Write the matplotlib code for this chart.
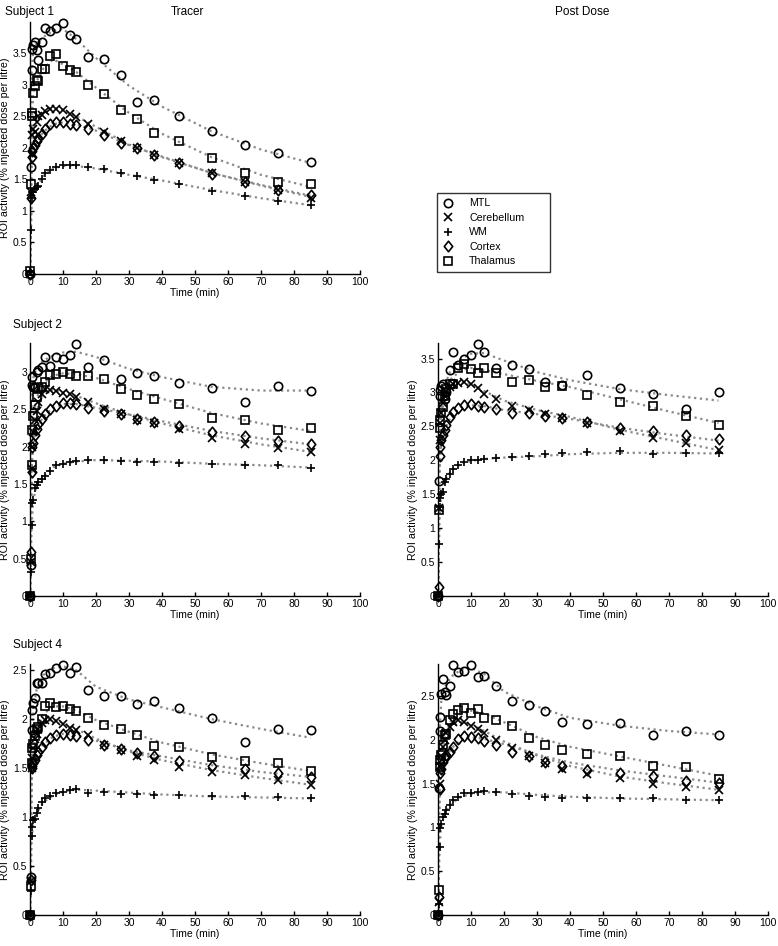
"""
ROI time-activity curves, tracer vs post dose, three subjects
"""

import matplotlib
matplotlib.use('Agg')
import matplotlib.pyplot as plt
from matplotlib.lines import Line2D
from matplotlib.path import Path

plt.rcParams['font.family'] = ['Liberation Sans', 'DejaVu Sans']
plt.rcParams['font.size'] = 7.5

# sample times (min)
times = [0, 0.25, 0.5, 0.75, 1, 1.5, 2, 2.5, 3.5, 4.5, 6, 8, 10, 12, 14,
         17.5, 22.5, 27.5, 32.5, 37.5, 45, 55, 65, 75, 85]
# times of the model fit curves (min)
fit_times = [0, 0.5, 1, 2, 4, 7, 10, 14, 20, 30, 40, 55, 70, 85]

regions = ['MTL', 'Cerebellum', 'WM', 'Cortex', 'Thalamus']

# MATLAB-like diamond: a bit taller than wide
diamond = Path([(0, 1), (0.8, 0), (0, -1), (-0.8, 0), (0, 1)],
               [Path.MOVETO, Path.LINETO, Path.LINETO, Path.LINETO, Path.CLOSEPOLY])
markers = ['o', 'x', '+', diamond, 's']

# Subject 1, tracer
s1_tracer_mtl = [0, 1.7, 3.23, 3.57, 3.62, 3.67, 3.55, 3.39, 3.68, 3.9, 3.85, 3.9, 3.97, 3.79, 3.72,
                 3.44, 3.4, 3.15, 2.72, 2.75, 2.5, 2.26, 2.04, 1.92, 1.77]
s1_tracer_cer = [0, 1.3, 1.9, 2.2, 2.3, 2.25, 2.4, 2.5, 2.52, 2.58, 2.62, 2.62, 2.6, 2.53, 2.48,
                 2.38, 2.25, 2.1, 1.99, 1.88, 1.75, 1.6, 1.45, 1.33, 1.2]
s1_tracer_wm = [0.05, 0.7, 1.2, 1.3, 1.3, 1.35, 1.38, 1.4, 1.5, 1.6, 1.65, 1.7, 1.72, 1.72, 1.72,
                1.69, 1.66, 1.6, 1.55, 1.49, 1.43, 1.32, 1.23, 1.16, 1.09]
s1_tracer_ctx = [0, 1.2, 1.85, 1.95, 2.0, 2.05, 2.1, 2.15, 2.22, 2.3, 2.38, 2.4, 2.4, 2.38, 2.36,
                 2.3, 2.2, 2.08, 1.99, 1.88, 1.75, 1.59, 1.46, 1.33, 1.25]
s1_tracer_thal = [0.05, 1.43, 2.5, 2.55, 2.87, 2.98, 3.07, 3.05, 3.25, 3.25, 3.45, 3.48, 3.3, 3.23, 3.2,
                  3.0, 2.85, 2.6, 2.46, 2.23, 2.11, 1.84, 1.6, 1.45, 1.43]
s1_tracer_fit_mtl = [0, 3.2, 3.55, 3.65, 3.75, 3.85, 3.88, 3.72, 3.42, 2.98, 2.65, 2.26, 1.97, 1.76]
s1_tracer_fit_cer = [0, 1.9, 2.2, 2.4, 2.55, 2.62, 2.6, 2.5, 2.33, 2.05, 1.85, 1.6, 1.4, 1.22]
s1_tracer_fit_wm = [0, 1.1, 1.28, 1.38, 1.55, 1.67, 1.71, 1.71, 1.67, 1.57, 1.48, 1.33, 1.2, 1.09]
s1_tracer_fit_ctx = [0, 1.8, 1.95, 2.08, 2.25, 2.37, 2.4, 2.37, 2.27, 2.04, 1.86, 1.6, 1.41, 1.24]
s1_tracer_fit_thal = [0, 2.4, 2.85, 3.05, 3.25, 3.4, 3.32, 3.2, 2.95, 2.55, 2.22, 1.85, 1.57, 1.38]

# Subject 2, tracer
s2_tracer_mtl = [0, 0.41, 2.93, 2.82, 2.8, 2.8, 3.0, 3.02, 3.06, 3.2, 3.08, 3.2, 3.17, 3.22, 3.37,
                 3.07, 3.16, 2.91, 2.99, 2.95, 2.85, 2.78, 2.6, 2.81, 2.75]
s2_tracer_cer = [0, 0.45, 1.7, 2.0, 2.2, 2.35, 2.48, 2.6, 2.7, 2.77, 2.76, 2.74, 2.72, 2.7, 2.67,
                 2.6, 2.5, 2.43, 2.36, 2.31, 2.23, 2.12, 2.04, 1.98, 1.93]
s2_tracer_wm = [0, 0.32, 0.95, 1.24, 1.29, 1.44, 1.48, 1.52, 1.57, 1.61, 1.67, 1.75, 1.77, 1.79, 1.81,
                1.82, 1.82, 1.81, 1.8, 1.79, 1.78, 1.77, 1.76, 1.75, 1.72]
s2_tracer_ctx = [0, 0.59, 1.66, 2.0, 2.05, 2.15, 2.24, 2.3, 2.37, 2.44, 2.5, 2.55, 2.58, 2.58, 2.57,
                 2.52, 2.48, 2.43, 2.37, 2.33, 2.28, 2.2, 2.14, 2.07, 2.04]
s2_tracer_thal = [0, 0.5, 1.76, 2.22, 2.41, 2.56, 2.66, 2.78, 2.8, 2.87, 2.96, 2.97, 3.0, 2.97, 2.95,
                  2.95, 2.9, 2.77, 2.69, 2.64, 2.57, 2.38, 2.36, 2.22, 2.25]
s2_tracer_fit_mtl = [0, 2.7, 2.92, 3.05, 3.15, 3.22, 3.26, 3.27, 3.2, 3.04, 2.93, 2.8, 2.75, 2.75]
s2_tracer_fit_cer = [0, 1.75, 2.2, 2.48, 2.7, 2.76, 2.73, 2.68, 2.58, 2.43, 2.31, 2.15, 2.03, 1.93]
s2_tracer_fit_wm = [0, 0.95, 1.28, 1.48, 1.6, 1.72, 1.77, 1.8, 1.82, 1.81, 1.8, 1.77, 1.75, 1.72]
s2_tracer_fit_ctx = [0, 1.7, 2.05, 2.24, 2.4, 2.52, 2.57, 2.57, 2.52, 2.43, 2.34, 2.21, 2.11, 2.03]
s2_tracer_fit_thal = [0, 1.8, 2.4, 2.65, 2.85, 2.95, 2.98, 2.97, 2.92, 2.77, 2.64, 2.45, 2.31, 2.21]

# Subject 2, post dose
s2_post_mtl = [0, 1.7, 3.03, 2.95, 3.1, 3.12, 2.91, 3.0, 3.33, 3.6, 3.4, 3.5, 3.55, 3.71, 3.6,
               3.36, 3.4, 3.35, 3.15, 3.11, 3.25, 3.06, 2.97, 2.76, 3.0]
s2_post_cer = [0, 1.3, 2.3, 2.55, 2.7, 2.85, 2.95, 3.0, 3.08, 3.13, 3.14, 3.15, 3.13, 3.06, 2.97,
               2.9, 2.8, 2.74, 2.68, 2.63, 2.55, 2.43, 2.33, 2.25, 2.15]
s2_post_wm = [0, 0.77, 1.31, 1.45, 1.51, 1.53, 1.68, 1.72, 1.8, 1.87, 1.93, 1.98, 2.0, 2.01, 2.02,
              2.04, 2.05, 2.06, 2.1, 2.11, 2.12, 2.14, 2.1, 2.11, 2.11]
s2_post_ctx = [0, 0.13, 2.07, 2.2, 2.3, 2.37, 2.45, 2.52, 2.64, 2.71, 2.77, 2.81, 2.83, 2.8, 2.79,
               2.75, 2.7, 2.69, 2.65, 2.63, 2.57, 2.48, 2.43, 2.37, 2.32]
s2_post_thal = [0, 1.27, 2.47, 2.6, 2.7, 2.78, 2.95, 3.05, 3.13, 3.13, 3.36, 3.42, 3.35, 3.28, 3.36,
                3.28, 3.15, 3.18, 3.08, 3.1, 2.96, 2.86, 2.8, 2.66, 2.52]
s2_post_fit_mtl = [0, 2.5, 2.9, 3.1, 3.35, 3.5, 3.57, 3.58, 3.47, 3.3, 3.18, 3.05, 2.96, 2.88]
s2_post_fit_cer = [0, 2.2, 2.7, 2.95, 3.1, 3.15, 3.12, 3.02, 2.88, 2.74, 2.64, 2.45, 2.3, 2.15]
s2_post_fit_wm = [0, 1.2, 1.5, 1.68, 1.85, 1.95, 1.99, 2.02, 2.04, 2.06, 2.09, 2.11, 2.11, 2.1]
s2_post_fit_ctx = [0, 1.9, 2.25, 2.45, 2.65, 2.78, 2.81, 2.8, 2.74, 2.68, 2.61, 2.48, 2.38, 2.29]
s2_post_fit_thal = [0, 2.3, 2.7, 2.95, 3.2, 3.33, 3.36, 3.33, 3.27, 3.17, 3.08, 2.9, 2.72, 2.55]

# Subject 4, tracer
s4_tracer_mtl = [0, 0.39, 1.89, 2.09, 2.16, 2.22, 2.37, 2.37, 2.37, 2.46, 2.47, 2.52, 2.55, 2.47, 2.53,
                 2.3, 2.24, 2.24, 2.15, 2.19, 2.11, 2.01, 1.77, 1.9, 1.89]
s4_tracer_cer = [0, 0.35, 1.5, 1.6, 1.7, 1.8, 1.85, 1.9, 1.96, 1.99, 2.0, 1.98, 1.95, 1.91, 1.89,
                 1.84, 1.74, 1.68, 1.62, 1.58, 1.51, 1.46, 1.43, 1.38, 1.33]
s4_tracer_wm = [0, 0.24, 0.81, 0.9, 0.97, 0.98, 1.04, 1.09, 1.15, 1.19, 1.22, 1.25, 1.26, 1.28, 1.29,
                1.25, 1.26, 1.24, 1.24, 1.23, 1.23, 1.21, 1.21, 1.2, 1.19]
s4_tracer_ctx = [0, 0.36, 1.5, 1.52, 1.55, 1.58, 1.63, 1.66, 1.72, 1.77, 1.81, 1.84, 1.85, 1.84, 1.83,
                 1.79, 1.74, 1.69, 1.65, 1.62, 1.57, 1.52, 1.49, 1.45, 1.41]
s4_tracer_thal = [0, 0.3, 1.55, 1.7, 1.75, 1.83, 1.9, 1.92, 2.0, 2.13, 2.16, 2.12, 2.13, 2.1, 2.08,
                  2.01, 1.94, 1.9, 1.84, 1.73, 1.72, 1.61, 1.57, 1.55, 1.47]
s4_tracer_fit_mtl = [0, 1.8, 2.1, 2.3, 2.45, 2.52, 2.54, 2.5, 2.33, 2.2, 2.12, 2.0, 1.9, 1.81]
s4_tracer_fit_cer = [0, 1.4, 1.65, 1.85, 1.96, 2.0, 1.96, 1.9, 1.8, 1.67, 1.58, 1.48, 1.4, 1.33]
s4_tracer_fit_wm = [0, 0.75, 0.95, 1.04, 1.15, 1.22, 1.26, 1.28, 1.27, 1.25, 1.23, 1.21, 1.2, 1.19]
s4_tracer_fit_ctx = [0, 1.4, 1.52, 1.62, 1.74, 1.82, 1.85, 1.84, 1.78, 1.68, 1.62, 1.53, 1.46, 1.41]
s4_tracer_fit_thal = [0, 1.45, 1.72, 1.88, 2.05, 2.13, 2.13, 2.09, 1.99, 1.87, 1.76, 1.64, 1.55, 1.47]

# Subject 4, post dose
s4_post_mtl = [0, 1.45, 2.1, 2.26, 2.52, 2.69, 2.55, 2.51, 2.61, 2.85, 2.77, 2.78, 2.85, 2.72, 2.73,
               2.61, 2.44, 2.4, 2.33, 2.2, 2.18, 2.19, 2.05, 2.1, 2.05]
s4_post_cer = [0, 0.15, 1.5, 1.7, 1.82, 1.92, 2.0, 2.08, 2.15, 2.2, 2.22, 2.2, 2.16, 2.12, 2.08,
               2.0, 1.91, 1.81, 1.74, 1.67, 1.61, 1.56, 1.5, 1.46, 1.43]
s4_post_wm = [0, 0.12, 0.78, 0.99, 1.04, 1.12, 1.15, 1.2, 1.26, 1.31, 1.35, 1.39, 1.39, 1.4, 1.41,
              1.4, 1.38, 1.36, 1.35, 1.34, 1.33, 1.33, 1.33, 1.31, 1.31]
s4_post_ctx = [0, 0.2, 1.44, 1.62, 1.67, 1.75, 1.79, 1.83, 1.86, 1.92, 2.01, 2.04, 2.03, 2.02, 1.99,
               1.94, 1.86, 1.81, 1.75, 1.7, 1.66, 1.62, 1.59, 1.53, 1.51]
s4_post_thal = [0, 0.29, 1.69, 1.77, 1.83, 1.94, 2.05, 2.06, 2.22, 2.29, 2.34, 2.36, 2.3, 2.35, 2.25,
                2.23, 2.16, 2.02, 1.94, 1.88, 1.84, 1.81, 1.7, 1.69, 1.55]
s4_post_fit_mtl = [0, 2.1, 2.45, 2.6, 2.72, 2.8, 2.82, 2.75, 2.55, 2.38, 2.25, 2.16, 2.1, 2.06]
s4_post_fit_cer = [0, 1.5, 1.8, 2.0, 2.15, 2.2, 2.18, 2.1, 1.98, 1.82, 1.7, 1.58, 1.5, 1.43]
s4_post_fit_wm = [0, 0.8, 1.02, 1.15, 1.27, 1.35, 1.38, 1.4, 1.4, 1.37, 1.35, 1.33, 1.32, 1.31]
s4_post_fit_ctx = [0, 1.5, 1.66, 1.78, 1.9, 2.0, 2.03, 2.01, 1.95, 1.83, 1.74, 1.65, 1.58, 1.51]
s4_post_fit_thal = [0, 1.65, 1.85, 2.05, 2.22, 2.3, 2.33, 2.3, 2.2, 2.03, 1.92, 1.81, 1.7, 1.59]

panels = {
    's1_tracer': ([s1_tracer_mtl, s1_tracer_cer, s1_tracer_wm, s1_tracer_ctx, s1_tracer_thal],
                  [s1_tracer_fit_mtl, s1_tracer_fit_cer, s1_tracer_fit_wm, s1_tracer_fit_ctx, s1_tracer_fit_thal]),
    's2_tracer': ([s2_tracer_mtl, s2_tracer_cer, s2_tracer_wm, s2_tracer_ctx, s2_tracer_thal],
                  [s2_tracer_fit_mtl, s2_tracer_fit_cer, s2_tracer_fit_wm, s2_tracer_fit_ctx, s2_tracer_fit_thal]),
    's2_post': ([s2_post_mtl, s2_post_cer, s2_post_wm, s2_post_ctx, s2_post_thal],
                [s2_post_fit_mtl, s2_post_fit_cer, s2_post_fit_wm, s2_post_fit_ctx, s2_post_fit_thal]),
    's4_tracer': ([s4_tracer_mtl, s4_tracer_cer, s4_tracer_wm, s4_tracer_ctx, s4_tracer_thal],
                  [s4_tracer_fit_mtl, s4_tracer_fit_cer, s4_tracer_fit_wm, s4_tracer_fit_ctx, s4_tracer_fit_thal]),
    's4_post': ([s4_post_mtl, s4_post_cer, s4_post_wm, s4_post_ctx, s4_post_thal],
                [s4_post_fit_mtl, s4_post_fit_cer, s4_post_fit_wm, s4_post_fit_ctx, s4_post_fit_thal]),
}

W, H = 778, 946
fig = plt.figure(figsize=(W / 100, H / 100), dpi=100)
fig.patch.set_facecolor('white')


def px_axes(x0, y0, x1, y1):
    """axes from pixel box (top-left origin)"""
    return fig.add_axes([x0 / W, 1 - y1 / H, (x1 - x0) / W, (y1 - y0) / H])


def marker_style(m):
    size = 7.6 if m is diamond else 6.0
    return dict(marker=m, markersize=size, markerfacecolor='none',
                markeredgecolor='black', markeredgewidth=1.2)


def draw_panel(ax, key):
    data, fits = panels[key]
    # fit curves first, grey dotted
    for fit in fits:
        ax.plot(fit_times, fit, linestyle=':', color='#8a8a8a', linewidth=1.6, zorder=1)
    for vals, m in zip(data, markers):
        ax.plot(times, vals, linestyle='none', clip_on=False, zorder=3, **marker_style(m))
    # axis tight to the data, like the original
    top = max(max(v) for v in data) * 1.005
    ax.set_xlim(0, 100)
    ax.set_ylim(0, top)
    ax.set_xticks(range(0, 101, 10))
    yt = [v * 0.5 for v in range(0, int(top / 0.5) + 1)]
    ax.set_yticks(yt)
    ax.set_yticklabels(['%g' % v for v in yt])
    ax.spines['top'].set_visible(False)
    ax.spines['right'].set_visible(False)
    ax.spines['left'].set_linewidth(1.0)
    ax.spines['bottom'].set_linewidth(1.0)
    ax.tick_params(direction='in', length=3, width=1, labelsize=7.5, pad=2)
    ax.set_xlabel('Time (min)', fontsize=7.5, labelpad=1)
    ax.set_ylabel('ROI activity (% injected dose per litre)', fontsize=7.7, labelpad=2)
    ax.patch.set_alpha(0)


left_x = (30, 360)
right_x = (438, 768)
rows_y = [(22, 274), (343, 596), (664, 915)]

ax_a = px_axes(left_x[0], rows_y[0][0], left_x[1], rows_y[0][1])
draw_panel(ax_a, 's1_tracer')
ax_b = px_axes(left_x[0], rows_y[1][0], left_x[1], rows_y[1][1])
draw_panel(ax_b, 's2_tracer')
ax_c = px_axes(right_x[0], rows_y[1][0], right_x[1], rows_y[1][1])
draw_panel(ax_c, 's2_post')
ax_d = px_axes(left_x[0], rows_y[2][0], left_x[1], rows_y[2][1])
draw_panel(ax_d, 's4_tracer')
ax_e = px_axes(right_x[0], rows_y[2][0], right_x[1], rows_y[2][1])
draw_panel(ax_e, 's4_post')

# headings
fig.text(5 / W, 1 - 12 / H, 'Subject 1', fontsize=8.5, va='center', ha='left')
fig.text(187 / W, 1 - 12 / H, 'Tracer', fontsize=8.5, va='center', ha='center')
fig.text(582 / W, 1 - 12 / H, 'Post Dose', fontsize=8.5, va='center', ha='center')
fig.text(13 / W, 1 - 325 / H, 'Subject 2', fontsize=8.5, va='center', ha='left')
fig.text(13 / W, 1 - 645 / H, 'Subject 4', fontsize=8.5, va='center', ha='left')

# legend in the empty top-right slot
handles = [Line2D([], [], linestyle='none', label=name, **marker_style(m))
           for name, m in zip(regions, markers)]
leg = fig.legend(handles=handles, loc='upper left',
                 bbox_to_anchor=(437 / W, 1 - 272 / H, 113 / W, 79 / H), mode='expand',
                 fontsize=7.7, frameon=True, fancybox=False,
                 borderpad=0.5, labelspacing=0.42, handlelength=1.0,
                 handletextpad=1.5, borderaxespad=0)
leg.get_frame().set_edgecolor('black')
leg.get_frame().set_linewidth(1.0)

plt.savefig('out.png', dpi=100, facecolor='white')
plt.close()
